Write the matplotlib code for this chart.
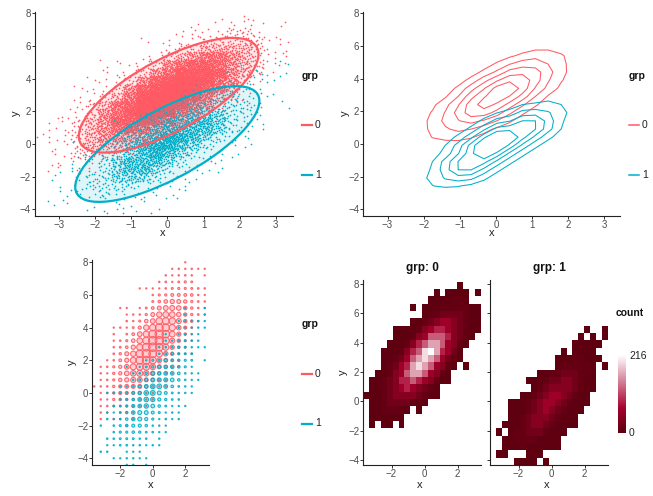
import numpy as np
import matplotlib
matplotlib.use('Agg')
import matplotlib.pyplot as plt
from matplotlib.colors import LinearSegmentedColormap, to_rgba
from matplotlib.patches import Ellipse
from matplotlib.lines import Line2D

plt.rcParams['font.family'] = ['Liberation Sans', 'DejaVu Sans']

# ---------------- data ----------------
groups = ['0', '1']
group_colors = ['#FF5A64', '#00AFC9']

x_range = [-3.71, 3.40]          # bin edges span (data range)
y_range = [-4.32, 8.14]
n_xbins = 20
n_ybins = 25

# level code -> approximate count per bin
level_codes = '.123456789A'
level_counts = [0, 2, 8, 21, 38, 60, 88, 122, 162, 196, 216]

# rows from top (y high) to bottom, 20 columns from left (x low)
grid_grp0 = [
    "................1...",
    "............1.1111.1",
    "...........1111221..",
    "........1.1112222211",
    "..........1223333211",
    "........112345543211",
    ".....111124566543211",
    ".....11124577764321.",
    "....11124678875421..",
    "...11124679A86531...",
    "...11235789875321...",
    "...1235689875421.1..",
    "..1124578875421.....",
    ".11234667654211.....",
    ".112345654321.......",
    "1112344443211.......",
    ".1123333211.........",
    ".1122221.1..........",
    ".111111.............",
    ".1.11.1.............",
    "....................",
    "....................",
    "....................",
    "....................",
    "....................",
]
grid_grp1 = [
    "....................",
    "....................",
    "....................",
    "....................",
    "....................",
    "....................",
    "................1..1",
    "...............1.1.1",
    "..............11111.",
    "............1.1111..",
    "...........11122111.",
    "...........1222221.1",
    "........1122333221..",
    "......111233443211..",
    ".......12344443211..",
    ".....112345543211...",
    "...11123455432111...",
    "...1112345432111....",
    "...112344432111.....",
    "..1112344321111.....",
    ".1.1223332111.......",
    "..1122221111........",
    "..1112111111........",
    ".11...111...........",
    "....1111.1..........",
]

# ---------------- derived ----------------
def to_counts(rows):
    arr = np.array([[level_counts[level_codes.index(ch)] for ch in row] for row in rows], float)
    return arr[::-1]  # row 0 = lowest y

counts = [to_counts(grid_grp0), to_counts(grid_grp1)]
xe = np.linspace(x_range[0], x_range[1], n_xbins + 1)
ye = np.linspace(y_range[0], y_range[1], n_ybins + 1)
bw = xe[1] - xe[0]
bh = ye[1] - ye[0]
xc = (xe[:-1] + xe[1:]) / 2
yc = (ye[:-1] + ye[1:]) / 2

def halton(n, b):
    out = np.zeros(n)
    for k in range(n):
        i = k + 1
        f = 1.0
        r = 0.0
        while i > 0:
            f /= b
            r += f * (i % b)
            i //= b
        out[k] = r
    return out

H2 = halton(400, 2)
H3 = halton(400, 3)

pts = []
for g in range(2):
    xs, ys = [], []
    C = counts[g]
    for r in range(n_ybins):
        for c in range(n_xbins):
            k = int(C[r, c])
            if k == 0:
                continue
            off = (r * 31 + c * 17 + g * 7) % 150
            idx = np.arange(k) + off
            xs.append(xe[c] + bw * H2[idx])
            ys.append(ye[r] + bh * H3[idx])
    pts.append((np.concatenate(xs), np.concatenate(ys)))

W, Hh = 653, 496
fig = plt.figure(figsize=(W / 100, Hh / 100), dpi=100)

def rect(l, r, t, b):
    return [l / W, 1 - b / Hh, (r - l) / W, (b - t) / Hh]

tick_col = '#4d4d4d'
title_col = '#222222'

def style(ax, labels_y=True):
    for s in ['top', 'right']:
        ax.spines[s].set_visible(False)
    for s in ['left', 'bottom']:
        ax.spines[s].set_linewidth(0.8)
        ax.spines[s].set_color('#222222')
    ax.tick_params(length=2, width=0.7, color='#333333', labelsize=7,
                   labelcolor=tick_col, pad=1)
    if not labels_y:
        ax.tick_params(axis='y', labelleft=False)

def ftext(px, py, s, **kw):
    fig.text(px / W, 1 - py / Hh, s, **kw)

def legend(px, py_title, py_keys, lw):
    ftext(px, py_title, 'grp', fontsize=7.5, fontweight='bold', ha='left', va='center', color='#111111')
    for g, yk in enumerate(py_keys):
        fig.add_artist(Line2D([px / W, (px + 10) / W], [1 - yk / Hh, 1 - yk / Hh],
                              color=group_colors[g], lw=lw, transform=fig.transFigure))
        ftext(px + 13, yk, groups[g], fontsize=7.5, ha='left', va='center', color='#222222')

# ---------------- top-left: points + 95% normal ellipses ----------------
ax1 = fig.add_axes(rect(35, 292.7, 11.7, 216))
for g in range(2):
    ax1.scatter(pts[g][0], pts[g][1], s=1.5, color=group_colors[g], linewidths=0, zorder=2)
radius = 2.4477
for g in range(2):
    x, y = pts[g]
    m = np.array([x.mean(), y.mean()])
    cov = np.cov(x, y)
    vals, vecs = np.linalg.eigh(cov)
    ang = np.degrees(np.arctan2(vecs[1, 1], vecs[0, 1]))
    wdt, hgt = 2 * radius * np.sqrt(vals[1]), 2 * radius * np.sqrt(vals[0])
    ax1.add_patch(Ellipse(m, wdt, hgt, angle=ang, facecolor=group_colors[g], alpha=0.12,
                          edgecolor='none', zorder=3))
    ax1.add_patch(Ellipse(m, wdt, hgt, angle=ang, facecolor='none',
                          edgecolor=group_colors[g], lw=1.6, zorder=4))
ax1.set_xlim(-3.673, 3.471)
ax1.set_ylim(-4.41, 8.098)
ax1.set_xticks([-3, -2, -1, 0, 1, 2, 3])
ax1.set_yticks([-4, -2, 0, 2, 4, 6, 8])
style(ax1)
ftext(163, 233, 'x', fontsize=8, ha='center', va='center', color=title_col)
ftext(16, 113, 'y', fontsize=8, ha='center', va='center', rotation=90, color=title_col)
legend(302, 76, [125, 174.5], 1.6)

# ---------------- top-right: density contours ----------------
ax2 = fig.add_axes(rect(363.3, 620, 11.7, 216))
pad = 4
kk = np.arange(-3, 4)
def smooth(A, sig):
    ker = np.exp(-0.5 * (kk / sig) ** 2)
    ker /= ker.sum()
    A = np.apply_along_axis(lambda v: np.convolve(v, ker, mode='same'), 0, A)
    A = np.apply_along_axis(lambda v: np.convolve(v, ker, mode='same'), 1, A)
    return A
xcp = np.concatenate([xc[0] - bw * np.arange(pad, 0, -1), xc, xc[-1] + bw * np.arange(1, pad + 1)])
ycp = np.concatenate([yc[0] - bh * np.arange(pad, 0, -1), yc, yc[-1] + bh * np.arange(1, pad + 1)])
levels = [0.025, 0.05, 0.075, 0.10, 0.125]
for g in range(2):
    C = np.pad(counts[g], pad)
    D = smooth(C, 0.6) / (counts[g].sum() * bw * bh)
    ax2.contour(xcp, ycp, D, levels=levels, colors=[group_colors[g]], linewidths=0.75)
ax2.set_xlim(-3.67, 3.43)
ax2.set_ylim(-4.41, 8.098)
ax2.set_xticks([-3, -2, -1, 0, 1, 2, 3])
ax2.set_yticks([-4, -2, 0, 2, 4, 6, 8])
style(ax2)
ftext(492, 233, 'x', fontsize=8, ha='center', va='center', color=title_col)
ftext(345, 113, 'y', fontsize=8, ha='center', va='center', rotation=90, color=title_col)
legend(629, 76, [125, 175], 1.1)

# ---------------- bottom-left: counts on a rounded grid ----------------
ax3 = fig.add_axes(rect(92.3, 209.3, 260, 465.3))
step = 0.4
rounded = []
for g in range(2):
    rx = np.round(pts[g][0] / step) * step
    ry = np.round(pts[g][1] / step) * step
    keys, cnt = np.unique(np.round(np.stack([rx, ry], 1), 3), axis=0, return_counts=True)
    rounded.append((keys, cnt))
cmax = max(r[1].max() for r in rounded)
cmin = min(r[1].min() for r in rounded)
for g in range(2):
    keys, cnt = rounded[g]
    s = 0.8 + 36 * (cnt - cmin) / (cmax - cmin)
    col = group_colors[g]
    ax3.scatter(keys[:, 0], keys[:, 1], s=s, facecolors=to_rgba(col, 0.3),
                edgecolors=to_rgba(col, 0.9), linewidths=0.8, zorder=2 + g)
ax3.set_xlim(-3.72, 3.48)
ax3.set_ylim(-4.43, 8.14)
ax3.set_xticks([-2, 0, 2])
ax3.set_yticks([-4, -2, 0, 2, 4, 6, 8])
style(ax3)
ftext(151, 485, 'x', fontsize=8, ha='center', va='center', color=title_col)
ftext(72, 362, 'y', fontsize=8, ha='center', va='center', rotation=90, color=title_col)
legend(302, 324, [374, 423.5], 1.6)

# ---------------- bottom-right: faceted 2-D bins ----------------
cmap = LinearSegmentedColormap.from_list('cnt', [(0, '#5c000f'), (0.32, '#a8002e'), (1, '#ffffff')])
vmax = max(c.max() for c in counts)
facet_px = [(363.3, 480.7), (490.3, 607.7)]
for g in range(2):
    l, r = facet_px[g]
    ax = fig.add_axes(rect(l, r, 279.7, 464.7))
    Cm = np.ma.masked_where(counts[g] == 0, counts[g])
    ax.pcolormesh(xe, ye, Cm, cmap=cmap, vmin=0, vmax=vmax, shading='flat')
    ax.set_xlim(-3.71, 3.40)
    ax.set_ylim(-4.30, 8.27)
    ax.set_xticks([-2, 0, 2])
    ax.set_yticks([-4, -2, 0, 2, 4, 6, 8])
    style(ax, labels_y=(g == 0))
    ftext((l + r) / 2, 268, 'grp: ' + groups[g], fontsize=8.5, fontweight='bold',
          ha='center', va='center', color='#111111')
    ftext((l + r) / 2 - 2, 485, 'x', fontsize=8, ha='center', va='center', color=title_col)
ftext(343, 372, 'y', fontsize=8, ha='center', va='center', rotation=90, color=title_col)

cax = fig.add_axes(rect(618.3, 625.7, 355, 433))
cax.imshow(np.linspace(1, 0, 200)[:, None], aspect='auto', cmap=cmap, extent=[0, 1, 0, vmax])
cax.set_axis_off()
ftext(616, 313, 'count', fontsize=7.5, fontweight='bold', ha='left', va='center', color='#111111')
ftext(629, 356, '%d' % vmax, fontsize=7.5, ha='left', va='center', color='#222222')
ftext(629, 433, '0', fontsize=7.5, ha='left', va='center', color='#222222')

fig.savefig('out.png', dpi=100)
